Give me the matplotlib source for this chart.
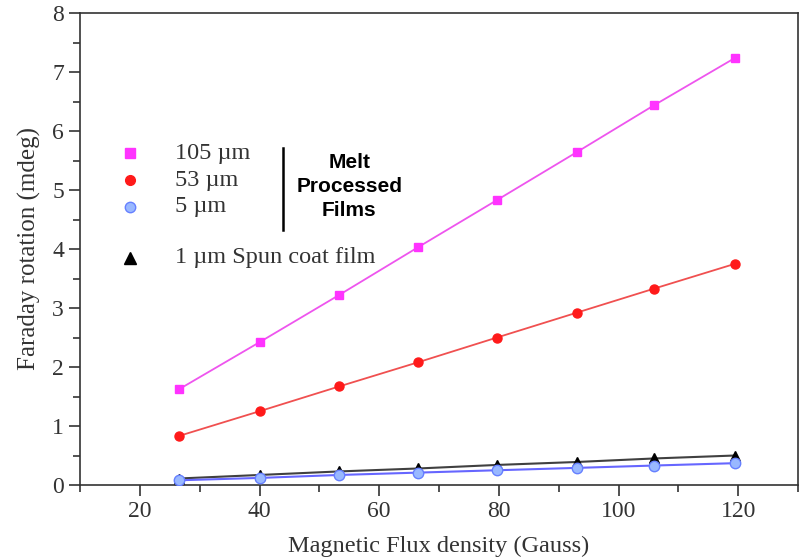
import numpy as np
import matplotlib.pyplot as plt
from matplotlib.ticker import MultipleLocator

# Campo magnético (Gauss) e rotação de Faraday (mdeg) para cada filme
field = [26.5, 40, 53.3, 66.5, 79.7, 93, 106, 119.5]
rot_105 = [1.62, 2.42, 3.22, 4.03, 4.83, 5.64, 6.44, 7.24]
rot_53 = [0.83, 1.25, 1.67, 2.08, 2.50, 2.92, 3.33, 3.75]
rot_5 = [0.08, 0.12, 0.17, 0.21, 0.25, 0.29, 0.33, 0.37]
rot_1 = [0.11, 0.17, 0.23, 0.28, 0.34, 0.39, 0.45, 0.50]

serif = 'Liberation Serif'

fig = plt.figure(figsize=(8.01, 5.58), dpi=100)
ax = fig.add_axes([80 / 801, 1 - 485 / 558, 718 / 801, 472 / 558])

ax.plot(field, rot_105, color='#ee55ee', lw=1.3, marker='s', ms=6,
        mfc='#ff33ff', mec='#ff33ff')
ax.plot(field, rot_53, color='#f05050', lw=1.3, marker='o', ms=6.5,
        mfc='#ff1a1a', mec='#ff1a1a')
ax.plot(field, rot_1, color='#404040', lw=1.5, marker='^', ms=7.5,
        mfc='black', mec='black', zorder=2)
ax.plot(field, rot_5, color='#6666ff', lw=1.5, marker='o', ms=7.5,
        mfc='#99b8ff', mec='#6680ff', zorder=3)

ax.set_xlim(10, 130)
ax.set_ylim(0, 8)
ax.xaxis.set_major_locator(MultipleLocator(20))
ax.xaxis.set_minor_locator(MultipleLocator(10))
ax.yaxis.set_major_locator(MultipleLocator(1))
ax.yaxis.set_minor_locator(MultipleLocator(0.5))
ax.set_xticks(np.arange(20, 121, 20))
ax.tick_params(which='both', direction='out', top=False, right=False,
               width=1.2, colors='#333333')
ax.tick_params(which='major', length=8, labelsize=17)
ax.tick_params(which='minor', length=5)
for lbl in ax.get_xticklabels() + ax.get_yticklabels():
    lbl.set_fontfamily(serif)
    lbl.set_color('#333333')
for sp in ax.spines.values():
    sp.set_linewidth(1.2)
    sp.set_color('#333333')

ax.set_xlabel('Magnetic Flux density (Gauss)', fontsize=17.5, family=serif,
              color='#333333', labelpad=10)
ax.set_ylabel('Faraday rotation (mdeg)', fontsize=18, family=serif,
              color='#333333', labelpad=8)

# Legenda desenhada à mão
tr = ax.transAxes
keys = [
    (0.703, 's', '#ff33ff', '#ff33ff', 6.5, '105 µm'),
    (0.646, 'o', '#ff1a1a', '#ff1a1a', 7, '53 µm'),
    (0.589, 'o', '#99b8ff', '#6680ff', 7.5, '5 µm'),
    (0.481, '^', 'black', 'black', 8, '1 µm Spun coat film'),
]
for y, m, fc, ec, ms, txt in keys:
    ax.plot([0.0696], [y], transform=tr, marker=m, ms=ms, mfc=fc, mec=ec,
            ls='none', clip_on=False)
    ax.text(0.132, y, txt, transform=tr, fontsize=17.5, family=serif,
            va='center', ha='left', color='#333333')
ax.plot([0.283, 0.283], [0.540, 0.714], transform=tr, color='black', lw=1.8)
ax.text(0.375, 0.632, 'Melt\nProcessed\nFilms', transform=tr, fontsize=15,
        family='Liberation Sans', weight='bold', ha='center', va='center',
        linespacing=1.35)

fig.savefig('out.png', dpi=100)
